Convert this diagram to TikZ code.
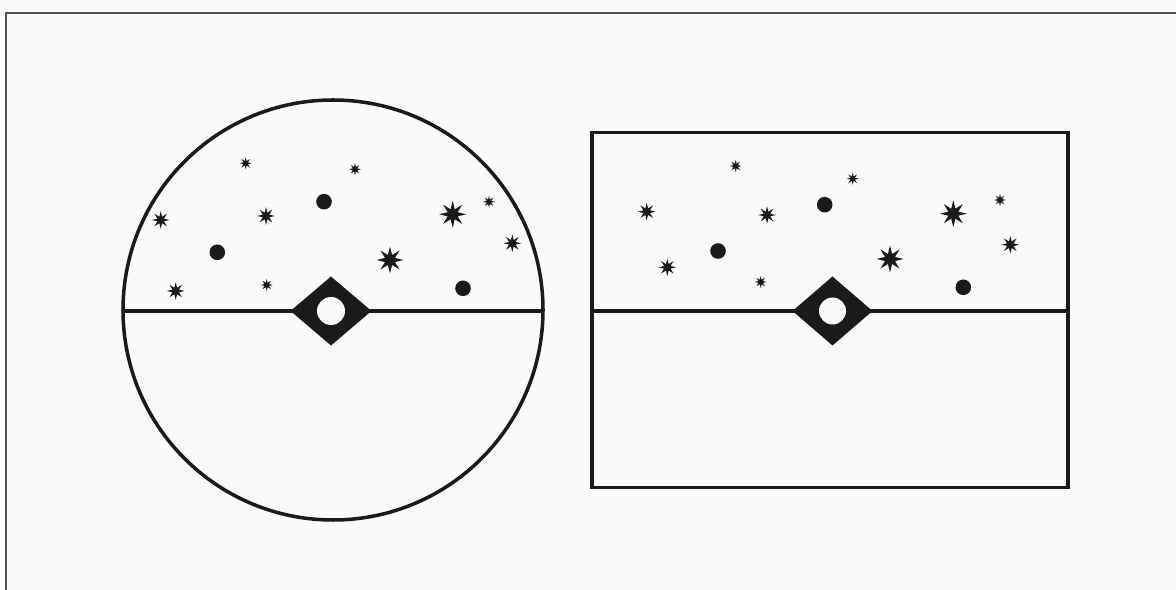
\documentclass[tikz,border=0pt]{standalone}
\usepackage{xcolor}
\usepackage{tikz}

\definecolor{ink}{HTML}{1A1A1A}
\definecolor{paper}{HTML}{FAFAFA}
\definecolor{rim}{HTML}{505050}

% eight-pointed star at (#1,#2), outer radius #3
\newcommand\twinkle[3]{%
  \fill[ink,shift={(#1,#2)}] (0:#3)
    \foreach \a in {0,45,...,315} { -- (\a:#3) -- ({\a+22.5}:{.4*#3}) } -- cycle;}

\begin{document}
\begin{tikzpicture}[x=.02cm,y=-.02cm]
\useasboundingbox (0,0) rectangle (1176,590);
\fill[paper] (0,0) rectangle (1176,590);
\draw[rim,line width=1.4pt] (6,590) -- (6,13) -- (1176,13);

% round sky
\draw[ink,line width=2pt] (333,310) circle (210);
\draw[ink,line width=2pt] (123,311) -- (543,311);
\fill[ink] (290.5,311) -- (331,276.5) -- (371.5,311) -- (331,345.5) -- cycle;
\fill[paper] (331,311) circle (14);
\foreach \x/\y/\r in {245.7/163.3/6, 355/169.3/6, 160.7/220/8.8, 266/216/8.8,
  452.7/214.3/13.5, 489/201.7/6, 512.3/243.3/8.8, 390/260/13.5,
  175.7/291/8.8, 266.7/285/6}
  \twinkle{\x}{\y}{\r};
\fill[ink] (324,201.7) circle (7.8);
\fill[ink] (217.3,252.3) circle (7.8);
\fill[ink] (463,288.3) circle (7.8);

% flat sky
\draw[ink,line width=2.2pt] (592,132.5) rectangle (1068,487.5);
\draw[ink,line width=2.2pt] (592,311) -- (1068,311);
\fill[ink] (792.5,311) -- (832.5,276.5) -- (872.5,311) -- (832.5,345.5) -- cycle;
\fill[paper] (832.5,311) circle (13.5);
\foreach \x/\y/\r in {735.7/166/6, 852.7/178.7/6, 646.7/211.7/8.8, 767/215/8.8,
  953.3/213.7/13.5, 1000/200/6, 1010.3/244.7/8.8, 890/259/13.5,
  667.3/267.3/8.8, 760.7/282/6}
  \twinkle{\x}{\y}{\r};
\fill[ink] (824.7,204.7) circle (7.8);
\fill[ink] (718,251) circle (7.8);
\fill[ink] (963.3,287.3) circle (7.8);
\end{tikzpicture}
\end{document}
